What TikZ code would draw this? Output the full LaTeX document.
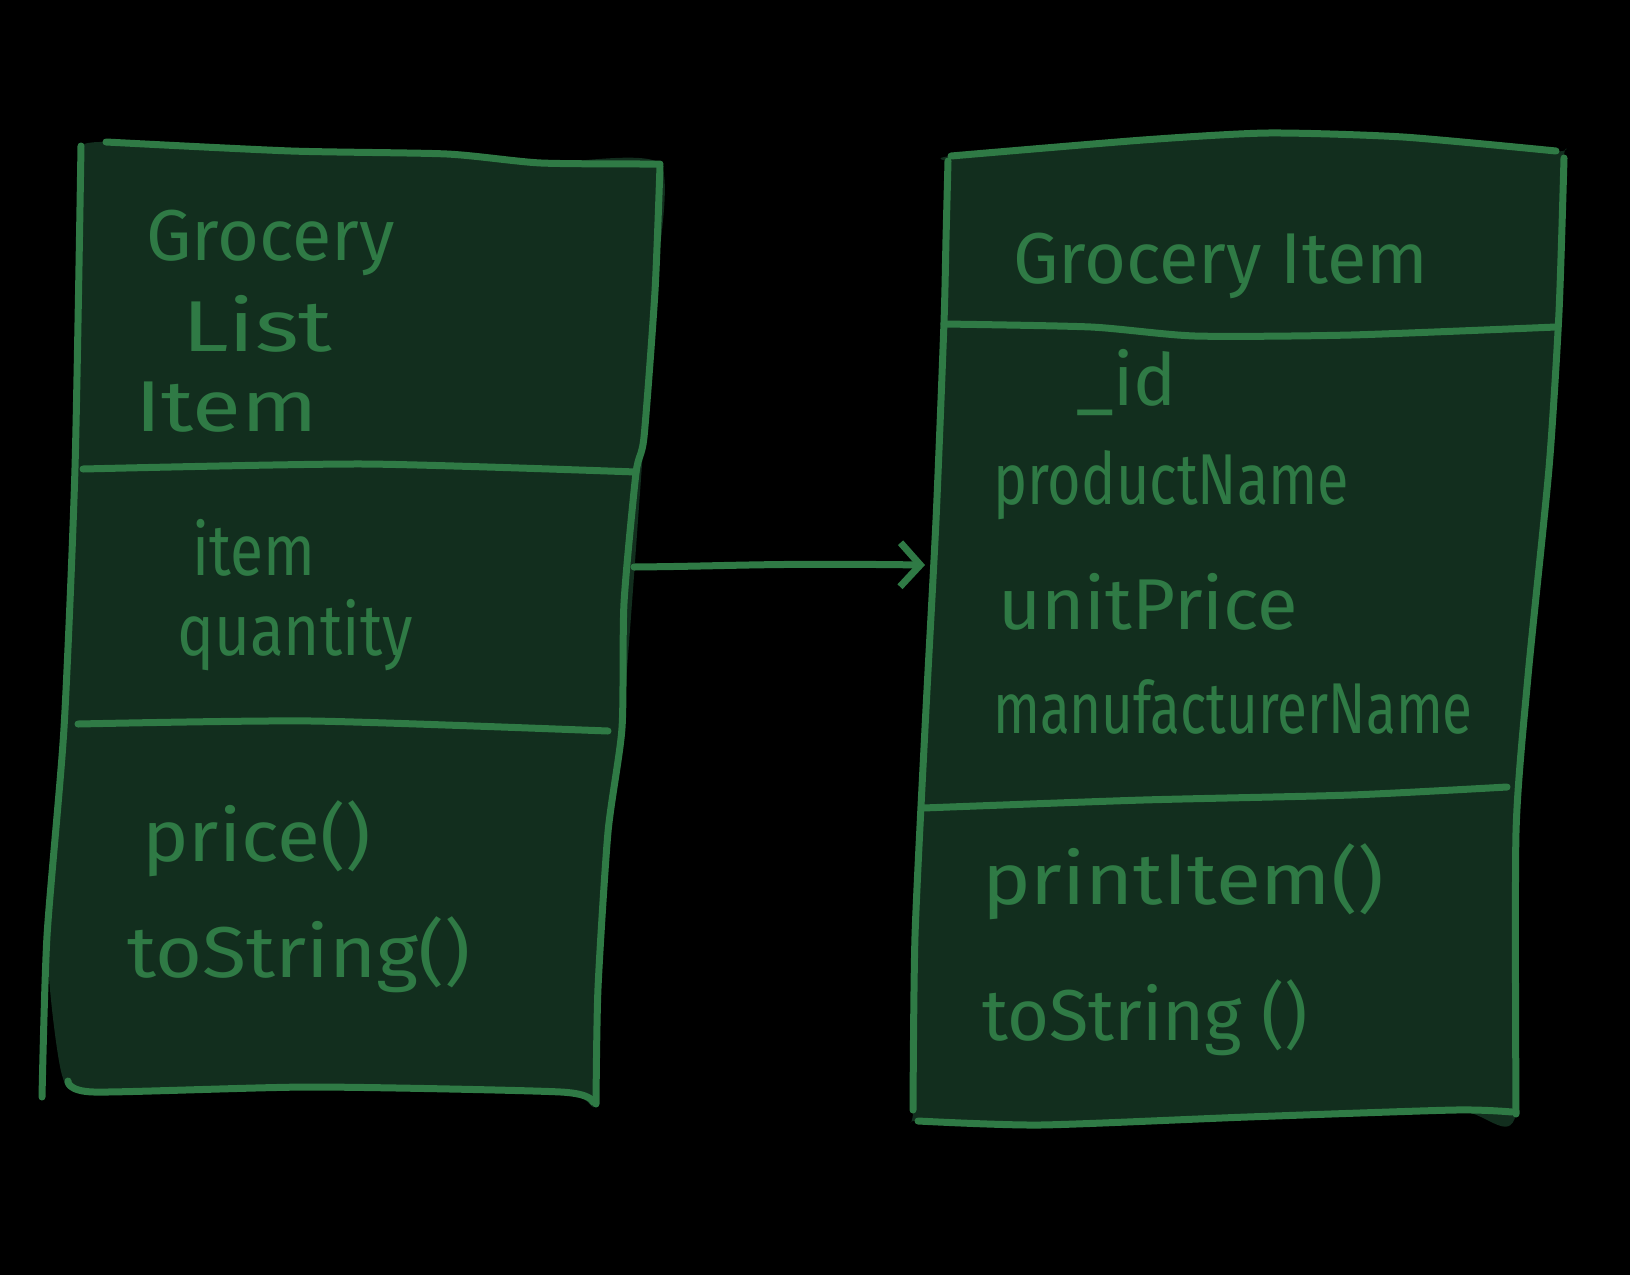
\documentclass[tikz,border=0pt]{standalone}
\usepackage{fontspec}
\setmainfont{Fira Sans}
\usetikzlibrary{arrows.meta}
\definecolor{ink}{RGB}{47,122,69}
\definecolor{boxfill}{RGB}{18,46,30}
\tikzset{
  pen/.style={draw=ink, line width=7pt, line cap=round, line join=round},
  boxbg/.style={fill=boxfill},
  lbl/.style={anchor=base west, text=ink, inner sep=0pt, transform shape, font=\fontsize{72}{80}\selectfont},
}
\begin{document}
\begin{tikzpicture}[x=1pt,y=-1pt]
\fill[black] (0,0) rectangle (1630,1275);
\useasboundingbox (0,0) rectangle (1630,1275);
% ---------- left box: GroceryListItem ----------
\fill[boxbg] plot[smooth,tension=0.4] coordinates {(81,146) (106,142) (291,151) (447,154) (541,163) (660,164) (655,291) (644,437) (632,603) (622,728) (608,832) (598,988) (596,1104) (561,1092) (312,1087) (94,1092) (62,1075) (47,936) (64,728) (75,468) (81,146)};
\draw[pen] plot[smooth,tension=0.4] coordinates {(106,142) (291,151) (447,154) (541,163) (660,164)};
\draw[pen] plot[smooth,tension=0.4] coordinates {(660,166) (655,291) (644,437) (636,473) (624,603) (622,728) (608,832) (598,988) (596,1104)};
\draw[pen] plot[smooth,tension=0.4] coordinates {(68,1081) (94,1092) (312,1087) (561,1092) (593,1102)};
\draw[pen] plot[smooth,tension=0.4] coordinates {(81,146) (75,468) (64,728) (47,936) (42,1097)};
\draw[pen] plot[smooth,tension=0.4] coordinates {(83,469) (364,464) (636,472)};
\draw[pen] plot[smooth,tension=0.4] coordinates {(78,724) (312,721) (608,731)};
% ---------- right box: GroceryItem ----------
\fill[boxbg] plot[smooth,tension=0.4] coordinates {(948,161) (951,156) (1143,140) (1268,133) (1403,137) (1556,151) (1564,158) (1559,312) (1549,468) (1528,676) (1516,832) (1516,1114) (1455,1110) (1247,1117) (1040,1125) (918,1121) (913,1110) (915,936) (925,728) (936,520) (944,322) (946,239) (948,161)};
\draw[pen] plot[smooth,tension=0.4] coordinates {(951,156) (1143,140) (1268,133) (1403,137) (1556,151)};
\draw[pen] plot[smooth,tension=0.4] coordinates {(1564,158) (1559,312) (1549,468) (1528,676) (1516,832) (1516,1114)};
\draw[pen] plot[smooth,tension=0.4] coordinates {(918,1121) (1040,1125) (1247,1117) (1455,1110) (1512,1112)};
\draw[pen] plot[smooth,tension=0.4] coordinates {(948,161) (946,239) (944,322) (936,520) (925,728) (915,936) (913,1110)};
\draw[pen] plot[smooth,tension=0.4] coordinates {(944,324) (1091,327) (1195,336) (1351,335) (1556,327)};
\draw[pen] plot[smooth,tension=0.4] coordinates {(923,808) (1143,800) (1351,795) (1507,787)};
% ---------- association arrow ----------
\coordinate (src) at (634,567);
\coordinate (dst) at (925,565);
\draw[pen, -{Straight Barb[length=20pt,width=44pt]}] (src) .. controls (740,566) and (760,563) .. (dst);
% ---------- left box texts ----------
\node[lbl] (t1) at (146,260) {Grocery};
\node[lbl, xscale=1.3] (t2) at (182,351) {List};
\node[lbl, xscale=1.24] (t3) at (135,431) {Item};
\node[lbl, xscale=0.84] (t4) at (192,575) {item};
\node[lbl, xscale=0.86] (t5) at (177,655) {quantity};
\node[lbl, xscale=1.09] (t6) at (142,861) {price()};
\node[lbl, xscale=1.12] (t7) at (127,977) {toString()};
% ---------- right box texts ----------
\node[lbl] (r1) at (1013,283) {Grocery Item};
\node[lbl] (r2) at (1076,405) {\_id};
\node[lbl, xscale=0.8] (r3) at (993,504) {productName};
\node[lbl, xscale=1.03] (r4) at (998,629) {unitPrice};
\node[lbl, xscale=0.76] (r5) at (993,733) {manufacturerName};
\node[lbl, xscale=1.14] (r6) at (982,904) {printItem()};
\node[lbl] (r7) at (982,1040) {toString ()};
\end{tikzpicture}
\end{document}
